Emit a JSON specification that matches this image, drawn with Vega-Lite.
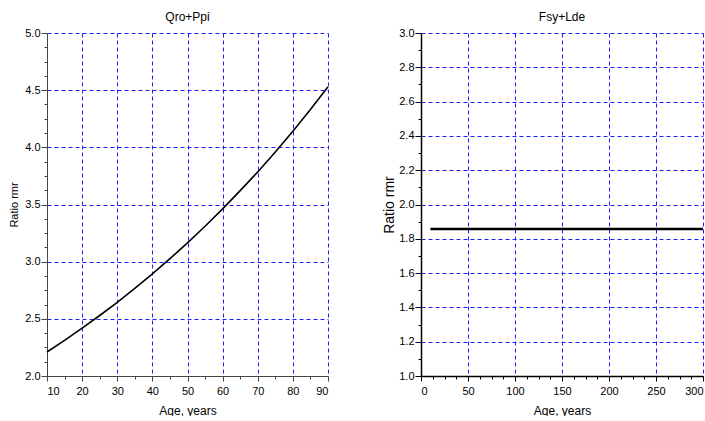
{
  "$schema": "https://vega.github.io/schema/vega-lite/v6.json",
  "padding": {"left": 8, "top": 11, "right": 0, "bottom": 0},
  "spacing": 50,
  "background": "white",
  "config": {
    "view": {"stroke": null},
    "font": "Liberation Sans",
    "title": {"font": "Liberation Sans", "fontSize": 12, "fontWeight": "normal", "color": "#000", "offset": 3},
    "axis": {
      "labelFont": "Liberation Sans", "labelFontSize": 11, "labelColor": "#000",
      "titleFont": "Liberation Sans", "titleFontWeight": "normal", "titleColor": "#000",
      "tickColor": "#000", "domainColor": "#000", "labelPadding": 1,
      "gridColor": "#1e1eff", "gridDash": [4, 3], "gridOpacity": 1
    },
    "axisX": {"labelPadding": 4, "titlePadding": 9}
  },
  "datasets": {
    "qro": [
      {"age": 10, "ratio": 2.21}, {"age": 15, "ratio": 2.311}, {"age": 20, "ratio": 2.418},
      {"age": 25, "ratio": 2.529}, {"age": 30, "ratio": 2.644}, {"age": 35, "ratio": 2.766},
      {"age": 40, "ratio": 2.893}, {"age": 45, "ratio": 3.026}, {"age": 50, "ratio": 3.165},
      {"age": 55, "ratio": 3.31}, {"age": 60, "ratio": 3.462}, {"age": 65, "ratio": 3.621},
      {"age": 70, "ratio": 3.785}, {"age": 75, "ratio": 3.96}, {"age": 80, "ratio": 4.14},
      {"age": 85, "ratio": 4.331}, {"age": 90, "ratio": 4.53}
    ],
    "fsy": [
      {"age": 10, "ratio": 1.857}, {"age": 300, "ratio": 1.857}
    ]
  },
  "hconcat": [
    {
      "title": "Qro+Ppi",
      "width": 281, "height": 343,
      "data": {"name": "qro"},
      "resolve": {"axis": {"x": "independent", "y": "independent"}},
      "layer": [
        {
          "mark": {"type": "line", "opacity": 0},
          "encoding": {
            "x": {
              "field": "age", "type": "quantitative",
              "scale": {"domain": [10, 90], "nice": false, "zero": false},
              "axis": {
                "orient": "bottom", "title": null, "labels": false, "grid": false, "domain": false,
                "values": [15,25,35,45,55,65,75,85], "tickSize": 3, "tickColor": "#444"
              }
            },
            "y": {
              "field": "ratio", "type": "quantitative",
              "scale": {"domain": [2, 5], "nice": false, "zero": false},
              "axis": {
                "orient": "left", "title": null, "labels": false, "grid": false, "domain": false,
                "values": [2.125,2.25,2.375,2.625,2.75,2.875,3.125,3.25,3.375,3.625,3.75,3.875,4.125,4.25,4.375,4.625,4.75,4.875],
                "tickSize": 3, "tickColor": "#444"
              }
            }
          }
        },
        {
          "mark": {"type": "line", "color": "#000", "strokeWidth": 1.6},
          "encoding": {
            "x": {
              "field": "age", "type": "quantitative",
              "scale": {"domain": [10, 90], "nice": false, "zero": false},
              "axis": {
                "orient": "bottom", "title": "Age, years", "titleFontSize": 12,
                "values": [10,20,30,40,50,60,70,80,90], "tickSize": 5, "grid": true,
                "domainColor": "#444", "tickColor": "#444"
              }
            },
            "y": {
              "field": "ratio", "type": "quantitative",
              "scale": {"domain": [2, 5], "nice": false, "zero": false},
              "axis": {
                "orient": "left", "title": "Ratio rmr", "titleFontSize": 11, "titlePadding": 5,
                "values": [2,2.5,3,3.5,4,4.5,5], "format": ".1f", "tickSize": 6, "grid": true,
                "domainColor": "#444", "tickColor": "#444"
              }
            }
          }
        }
      ]
    },
    {
      "title": "Fsy+Lde",
      "width": 282, "height": 343,
      "data": {"name": "fsy"},
      "resolve": {"axis": {"x": "independent", "y": "independent"}},
      "layer": [
        {
          "mark": {"type": "line", "opacity": 0},
          "encoding": {
            "x": {
              "field": "age", "type": "quantitative",
              "scale": {"domain": [0, 300], "nice": false},
              "axis": {
                "orient": "bottom", "title": null, "labels": false, "grid": false, "domain": false,
                "values": [12.5,25,37.5,62.5,75,87.5,112.5,125,137.5,162.5,175,187.5,212.5,225,237.5,262.5,275,287.5],
                "tickSize": 3
              }
            },
            "y": {
              "field": "ratio", "type": "quantitative",
              "scale": {"domain": [1, 3], "nice": false, "zero": false},
              "axis": {
                "orient": "left", "title": null, "labels": false, "grid": false, "domain": false,
                "values": [1.1,1.3,1.5,1.7,1.9,2.1,2.3,2.5,2.7,2.9],
                "tickSize": 3
              }
            }
          }
        },
        {
          "mark": {"type": "line", "color": "#000", "strokeWidth": 2.5},
          "encoding": {
            "x": {
              "field": "age", "type": "quantitative",
              "scale": {"domain": [0, 300], "nice": false},
              "axis": {
                "orient": "bottom", "title": "Age, years", "titleFontSize": 12,
                "values": [0,50,100,150,200,250,300], "tickSize": 5, "grid": true, "domainWidth": 1.5
              }
            },
            "y": {
              "field": "ratio", "type": "quantitative",
              "scale": {"domain": [1, 3], "nice": false, "zero": false},
              "axis": {
                "orient": "left", "title": "Ratio rmr", "titleFontSize": 14, "titlePadding": 2,
                "values": [1,1.2,1.4,1.6,1.8,2,2.2,2.4,2.6,2.8,3], "format": ".1f", "tickSize": 6, "grid": true,
                "domainWidth": 1.5
              }
            }
          }
        }
      ]
    }
  ]
}
